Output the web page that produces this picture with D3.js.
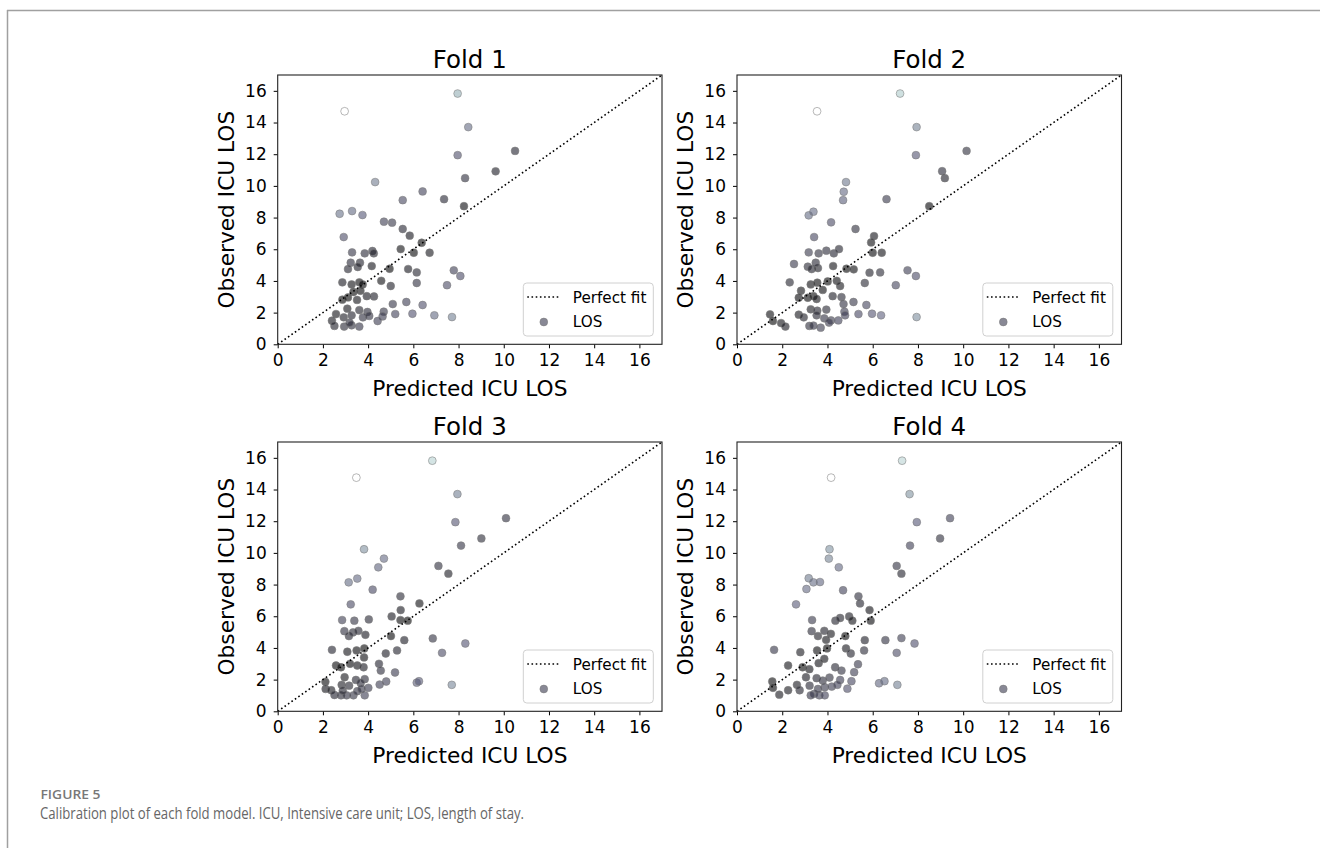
<!DOCTYPE html>
<html>
<head>
<meta charset="utf-8">
<script src="https://cdn.jsdelivr.net/npm/d3@7"></script>
<style>
  html, body { margin: 0; padding: 0; background: #fff; }
  svg { display: block; }
</style>
</head>
<body>
<svg id="chart" width="1320" height="848"></svg>
<script>
// ---------- DATA ----------
const foldTitles = ["Fold 1", "Fold 2", "Fold 3", "Fold 4"];
const tickValues = [0, 2, 4, 6, 8, 10, 12, 14, 16];
const axisDomain = [0, 17];
const xLabel = "Predicted ICU LOS";
const yLabel = "Observed ICU LOS";
const legendLabels = ["Perfect fit", "LOS"];
const captionHead = "FIGURE 5";
const captionText = "Calibration plot of each fold model. ICU, Intensive care unit; LOS, length of stay.";

const fold1Pred = [2.96,7.96,8.43,10.5,7.96,9.64,8.29,4.31,6.41,5.53,7.36,8.24,2.74,3.29,3.75,4.70,5.06,5.53,5.84,2.92,6.37,5.44,6.02,6.72,3.29,3.85,4.19,4.25,3.23,3.64,3.11,3.54,4.16,4.95,5.77,6.15,7.79,8.08,2.86,3.27,3.61,3.76,4.58,5.0,6.15,7.49,3.35,3.66,3.94,4.26,2.86,3.11,3.51,5.09,5.69,6.41,3.08,3.61,3.97,2.58,2.92,3.27,3.77,4.05,4.69,4.64,5.2,5.96,6.93,7.71,2.40,2.51,2.94,3.27,3.61,4.42,3.18];
const fold1Obs  = [14.71,15.83,13.71,12.21,11.94,10.92,10.49,10.24,9.65,9.10,9.16,8.72,8.24,8.41,8.16,7.74,7.68,7.28,6.86,6.77,6.41,6.01,5.78,5.78,5.80,5.74,5.89,5.74,5.15,5.15,4.75,4.88,4.94,4.77,4.75,4.54,4.67,4.31,3.91,3.78,3.91,3.78,4.01,3.68,3.87,3.73,3.30,3.38,3.04,3.02,2.82,2.96,2.80,2.54,2.67,2.48,2.25,2.16,2.04,1.91,1.70,1.83,1.70,1.79,2.06,1.76,1.91,1.93,1.83,1.72,1.49,1.16,1.12,1.20,1.12,1.47,1.37];

const fold2Pred = [3.54,7.21,7.94,10.15,7.91,9.07,9.19,4.82,4.72,4.69,6.61,8.50,3.17,3.38,4.16,5.24,3.41,6.06,5.93,3.17,3.61,3.95,4.28,4.51,6.0,6.40,2.52,3.13,3.30,3.58,3.48,4.25,4.84,5.16,5.86,6.33,7.54,7.91,2.33,3.26,3.55,4.01,3.79,4.41,4.56,5.65,7.02,2.83,3.13,3.38,3.52,4.23,4.62,2.73,4.71,5.15,5.72,3.26,3.55,3.95,4.75,4.78,5.37,5.97,6.37,7.94,1.46,1.59,1.95,2.14,2.73,2.95,3.20,3.52,3.70,3.86,4.16,4.48,4.07,3.38];
const fold2Obs  = [14.71,15.83,13.71,12.21,11.94,10.93,10.49,10.24,9.63,9.10,9.16,8.72,8.14,8.37,7.70,7.28,6.77,6.83,6.43,5.80,5.74,5.91,5.74,6.01,5.78,5.78,5.07,4.90,4.75,4.81,5.15,4.94,4.77,4.73,4.52,4.54,4.67,4.31,3.91,3.78,3.89,3.97,3.43,4.01,3.68,3.87,3.73,3.38,2.94,3.04,2.86,3.04,2.98,2.94,2.54,2.67,2.48,2.21,2.12,2.19,2.06,1.83,1.91,1.93,1.83,1.72,1.89,1.47,1.34,1.12,1.87,1.70,1.16,1.83,1.05,1.64,1.51,1.51,1.37,1.18];

const fold3Pred = [3.48,6.84,7.95,10.1,7.86,9.01,8.11,3.82,4.70,4.45,7.11,7.55,3.14,3.52,4.20,5.43,6.27,5.44,3.23,2.85,3.39,4.03,5.04,5.43,5.75,2.95,3.15,3.33,3.57,3.88,5.01,5.60,6.86,8.30,2.40,3.08,3.49,3.83,3.82,4.78,5.28,7.27,2.58,2.80,3.20,3.52,3.80,4.48,4.56,5.19,2.96,3.46,3.85,2.11,2.83,3.16,3.67,4.01,4.51,4.80,6.15,6.25,7.70,2.12,2.37,2.51,2.80,3.05,3.35,3.85,3.52,2.88,3.71];
const fold3Obs  = [14.75,15.82,13.71,12.19,11.94,10.91,10.46,10.23,9.64,9.09,9.18,8.69,8.14,8.38,7.68,7.26,6.81,6.39,6.75,5.76,5.72,5.80,5.99,5.76,5.72,5.06,4.75,4.98,5.08,4.83,4.75,4.49,4.60,4.28,3.88,3.76,3.84,3.97,3.40,3.65,3.84,3.69,2.89,2.78,3.0,2.89,2.78,3.0,2.57,2.45,2.15,1.98,2.03,1.86,1.67,1.62,1.79,1.48,1.69,1.88,1.81,1.90,1.67,1.41,1.33,1.03,1.01,1.01,1.01,1.01,1.27,1.31,1.41];

const fold4Pred = [4.16,7.30,7.63,9.42,7.95,8.98,7.65,4.09,4.06,4.50,7.06,7.27,3.17,3.38,3.07,3.67,4.69,2.61,5.37,5.44,5.86,3.32,4.35,4.56,4.96,5.10,5.91,3.30,3.58,3.86,4.15,3.94,4.79,5.65,6.56,7.27,7.85,1.64,2.80,3.54,3.98,4.82,5.03,5.62,7.06,2.26,2.90,3.20,3.61,3.86,4.34,4.62,5.18,5.35,3.05,3.52,3.79,4.09,4.56,5.06,1.56,1.59,1.87,2.26,2.65,2.77,3.21,3.41,3.64,3.88,3.88,4.19,4.44,4.88,6.28,6.52,7.09,3.58,3.26];
const fold4Obs  = [14.75,15.82,13.71,12.19,11.94,10.91,10.46,10.23,9.64,9.09,9.18,8.69,8.40,8.14,7.72,8.16,7.64,6.75,7.26,6.81,6.39,5.76,5.72,5.89,5.99,5.72,5.72,5.06,4.75,5.08,4.89,4.51,4.75,4.49,4.49,4.62,4.28,3.88,3.73,3.84,3.97,3.97,3.65,3.84,3.69,2.89,2.78,2.66,3.04,3.31,2.78,2.57,2.47,2.97,2.15,2.09,1.94,2.13,1.98,1.90,1.88,1.48,1.05,1.33,1.67,1.33,1.62,1.10,1.01,1.01,1.52,1.56,1.67,1.43,1.77,1.90,1.67,1.41,1.01];

const foldPred = [fold1Pred, fold2Pred, fold3Pred, fold4Pred];
const foldObs  = [fold1Obs, fold2Obs, fold3Obs, fold4Obs];

// ---------- LAYOUT ----------
const panels = [
  {left: 277.7, right: 662,    top: 75,  bottom: 344.3},
  {left: 737,   right: 1121.5, top: 75,  bottom: 344.3},
  {left: 277.7, right: 662,    top: 442, bottom: 711.3},
  {left: 737,   right: 1121.5, top: 442, bottom: 711.3}
];

// matplotlib "bone" colormap
const boneR = d3.scaleLinear([0, 0.746032, 1], [0, 0.652778, 1]);
const boneG = d3.scaleLinear([0, 0.365079, 0.746032, 1], [0, 0.319444, 0.777778, 1]);
const boneB = d3.scaleLinear([0, 0.365079, 1], [0, 0.444444, 1]);
function bone(t) {
  t = Math.max(0, Math.min(1, t));
  return d3.rgb(boneR(t) * 255, boneG(t) * 255, boneB(t) * 255).toString();
}

const svg = d3.select("#chart");
const font = "'DejaVu Sans', sans-serif";

// page frame
svg.append("line").attr("x1", 7).attr("x2", 1320).attr("y1", 10.5).attr("y2", 10.5)
  .attr("stroke", "#a0a0a0").attr("stroke-width", 1.5);
svg.append("line").attr("x1", 7.5).attr("x2", 7.5).attr("y1", 10).attr("y2", 848)
  .attr("stroke", "#a0a0a0").attr("stroke-width", 1.5);

panels.forEach((p, i) => {
  const x = d3.scaleLinear(axisDomain, [p.left, p.right]);
  const y = d3.scaleLinear(axisDomain, [p.bottom, p.top]);
  const g = svg.append("g");

  const pts = foldPred[i].map((v, k) => ({pred: v, obs: foldObs[i][k], err: Math.abs(foldObs[i][k] - v)}));
  const maxErr = d3.max(pts, d => d.err);

  // points
  g.append("g").selectAll("circle").data(pts).join("circle")
    .attr("cx", d => x(d.pred))
    .attr("cy", d => y(d.obs))
    .attr("r", 3.9)
    .attr("fill", d => bone(d.err / maxErr))
    .attr("fill-opacity", 0.6)
    .attr("stroke", "#7a7a7a")
    .attr("stroke-opacity", 0.6)
    .attr("stroke-width", 0.9);

  // perfect fit line
  g.append("line")
    .attr("x1", x(axisDomain[0])).attr("y1", y(axisDomain[0]))
    .attr("x2", x(axisDomain[1])).attr("y2", y(axisDomain[1]))
    .attr("stroke", "#000").attr("stroke-width", 1.6)
    .attr("stroke-dasharray", "1.6,2.6");

  // axes
  const ax = g.append("g").attr("transform", `translate(0,${p.bottom})`)
    .call(d3.axisBottom(x).tickValues(tickValues).tickSize(4).tickPadding(6).tickSizeOuter(0));
  const ay = g.append("g").attr("transform", `translate(${p.left},0)`)
    .call(d3.axisLeft(y).tickValues(tickValues).tickSize(4).tickPadding(7).tickSizeOuter(0));
  [ax, ay].forEach(a => {
    a.select(".domain").remove();
    a.selectAll("line").attr("stroke", "#000").attr("stroke-width", 1);
    a.selectAll("text").attr("font-family", font).attr("font-size", 17).attr("fill", "#000");
  });

  // spines
  g.append("rect").attr("x", p.left).attr("y", p.top)
    .attr("width", p.right - p.left).attr("height", p.bottom - p.top)
    .attr("fill", "none").attr("stroke", "#222").attr("stroke-width", 1.1);

  // title
  g.append("text").attr("x", (p.left + p.right) / 2).attr("y", p.top - 7.5)
    .attr("text-anchor", "middle").attr("font-family", font).attr("font-size", 24.5)
    .attr("fill", "#000").text(foldTitles[i]);

  // axis labels
  g.append("text").attr("x", (p.left + p.right) / 2).attr("y", p.bottom + 51.5)
    .attr("text-anchor", "middle").attr("font-family", font).attr("font-size", 21.7)
    .attr("fill", "#000").text(xLabel);
  g.append("text")
    .attr("transform", `translate(${p.left - 43.7},${(p.top + p.bottom) / 2}) rotate(-90)`)
    .attr("text-anchor", "middle").attr("font-family", font).attr("font-size", 21.7)
    .attr("fill", "#000").text(yLabel);

  // legend
  const lw = 130, lh = 53;
  const lx = p.right - 8.7 - lw, ly = p.bottom - 8.3 - lh;
  const lg = g.append("g").attr("transform", `translate(${lx},${ly})`);
  lg.append("rect").attr("width", lw).attr("height", lh).attr("rx", 3.5)
    .attr("fill", "#fff").attr("fill-opacity", 0.85)
    .attr("stroke", "#d0d0d0").attr("stroke-width", 1);
  lg.append("line").attr("x1", 4).attr("x2", 36).attr("y1", 14).attr("y2", 14)
    .attr("stroke", "#000").attr("stroke-width", 1.6).attr("stroke-dasharray", "1.6,2.6");
  lg.append("text").attr("x", 49.5).attr("y", 19.5).attr("font-family", font)
    .attr("font-size", 15.2).attr("fill", "#000").text(legendLabels[0]);
  lg.append("circle").attr("cx", 20.5).attr("cy", 39).attr("r", 3.9)
    .attr("fill", bone(0.25)).attr("fill-opacity", 0.6)
    .attr("stroke", "#7a7a7a").attr("stroke-opacity", 0.6).attr("stroke-width", 0.9);
  lg.append("text").attr("x", 49.5).attr("y", 44).attr("font-family", font)
    .attr("font-size", 15.2).attr("fill", "#000").text(legendLabels[1]);
});

// caption
svg.append("text").attr("x", 40.5).attr("y", 798.5)
  .attr("font-family", "'Open Sans', sans-serif").attr("font-weight", 600)
  .attr("font-size", 13).attr("fill", "#787878")
  .attr("textLength", 60).attr("lengthAdjust", "spacingAndGlyphs")
  .text(captionHead);
svg.append("text").attr("x", 40).attr("y", 819)
  .attr("font-family", "'Open Sans', sans-serif").attr("font-weight", 400)
  .attr("font-size", 16).attr("fill", "#666")
  .attr("textLength", 484).attr("lengthAdjust", "spacingAndGlyphs")
  .text(captionText);
</script>
</body>
</html>
